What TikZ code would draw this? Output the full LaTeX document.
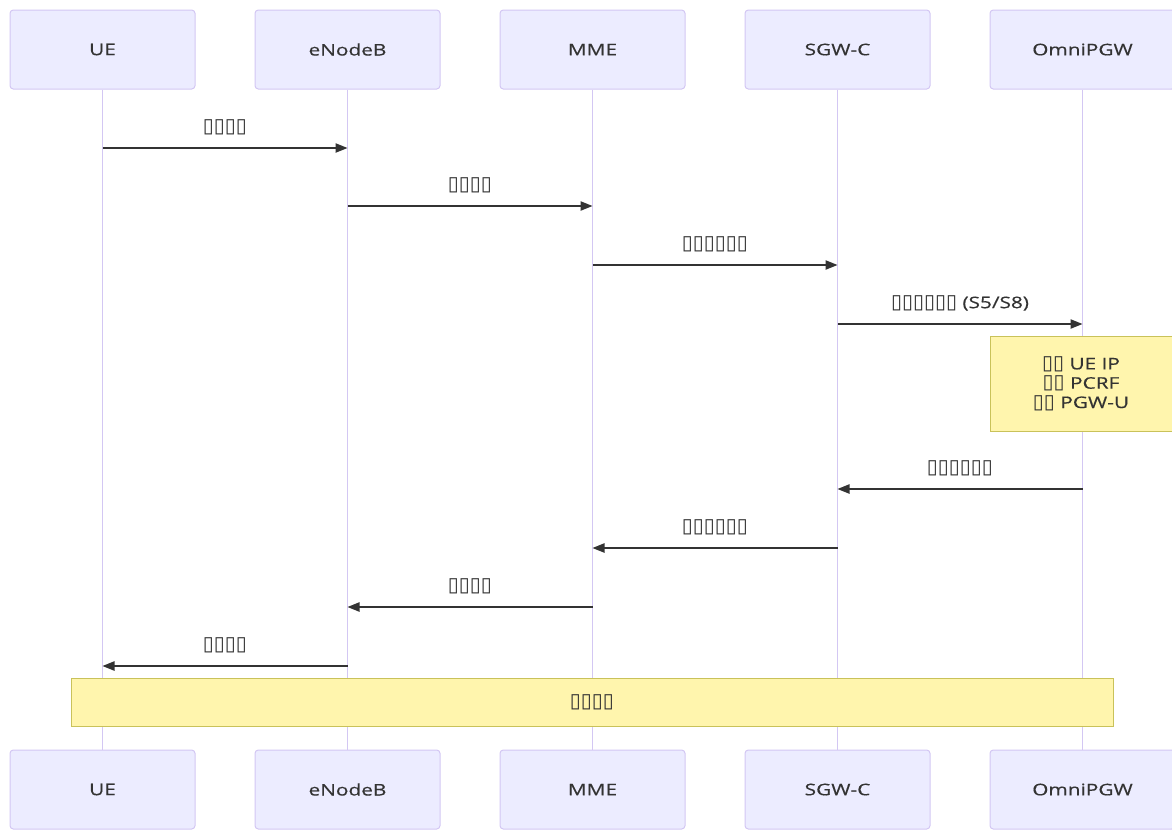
\documentclass[tikz,border=0pt]{standalone}
\usepackage{fontspec}
\setmainfont{Open Sans}[FakeStretch=1.3, FakeBold=0.5]
\newfontfamily\symfont{DejaVu Sans}
\usepackage{tikz}
\usetikzlibrary{positioning,arrows.meta,calc}

\definecolor{actfill}{HTML}{ECECFF}
\definecolor{actline}{HTML}{D3C7F3}
\definecolor{notefill}{HTML}{FFF5AD}
\definecolor{noteline}{HTML}{C9C25A}
\definecolor{msgcol}{HTML}{333333}

% missing glyphs, as the picture prints them
\newcommand\bx[1]{{\symfont\fontsize{15}{15}\selectfont #1}}

\begin{document}
\begin{tikzpicture}[
  x=0.75pt, y=-0.75pt,
  font=\fontsize{12}{14.5}\selectfont,
  actor/.style={draw=actline, fill=actfill, rounded corners=2.5pt, line width=0.75pt,
    minimum width=138.75pt, minimum height=59.25pt, inner sep=0pt, text=msgcol},
  life/.style={draw=actline, line width=1pt},
  arr/.style={-{Triangle[length=9pt,width=7pt]}, draw=msgcol, fill=msgcol, line width=1pt},
  lbl/.style={text=msgcol, inner sep=1pt},
  notebox/.style={draw=noteline, fill=notefill, line width=0.6pt, align=center, text=msgcol}
]
\useasboundingbox (0,0) rectangle (1172,829);

% --- actors and lifelines ---
\foreach \n/\t [count=\i] in {ue/UE,enb/eNodeB,mme/MME,sgw/SGW-C,pgw/OmniPGW} {
  \node[actor] (\n) at ({102.5+245*(\i-1)},49.5) {\t};
  \node[actor] (\n-b) at ({102.5+245*(\i-1)},789.5) {\t};
  \draw[life] (\n.south) -- (\n-b.north);
}

% --- messages ---
\foreach \r/\y in {r1/148,r2/206,r3/265,r4/324,r5/489,r6/548,r7/607,r8/666}
  \coordinate (\r) at (0,\y);

\foreach \a/\b/\r/\t in {
    ue/enb/r1/{\bx{▯▯▯▯}},
    enb/mme/r2/{\bx{▯▯▯▯}},
    mme/sgw/r3/{\bx{▯▯▯▯▯▯}},
    sgw/pgw/r4/{\bx{▯▯▯▯▯▯} (S5/S8)},
    pgw/sgw/r5/{\bx{▯▯▯▯▯▯}},
    sgw/mme/r6/{\bx{▯▯▯▯▯▯}},
    mme/enb/r7/{\bx{▯▯▯▯}},
    enb/ue/r8/{\bx{▯▯▯▯}}} {
  \draw[arr] (\a |- \r) -- (\b |- \r) node[lbl, midway, yshift=15.75pt] {\t};
}

% --- notes ---
\node[notebox, minimum width=136.5pt, minimum height=71.25pt, inner sep=0pt] (alloc)
  at (1081,383.5) {\bx{▯▯} UE IP\\\bx{▯▯} PCRF\\\bx{▯▯} PGW-U};
\node[notebox, minimum width=781.5pt, minimum height=36pt, inner sep=0pt] (done)
  at (592,702) {\bx{▯▯▯▯}};
\end{tikzpicture}
\end{document}
